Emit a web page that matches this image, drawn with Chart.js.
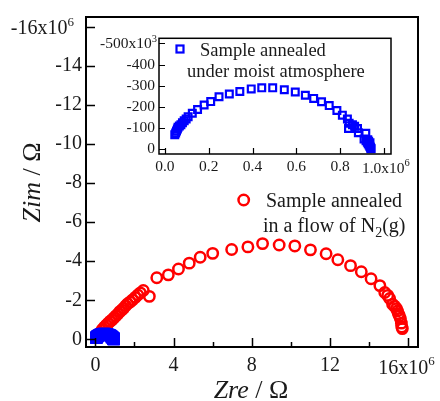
<!DOCTYPE html>
<html><head><meta charset="utf-8">
<script src="https://cdn.jsdelivr.net/npm/chart.js@4.4.0/dist/chart.umd.min.js"></script>
<style>
html,body{margin:0;padding:0;background:#fff;}
#wrap{position:relative;width:440px;height:401px;overflow:hidden;}
#main{position:absolute;left:0;top:0;}
#inset{position:absolute;left:90px;top:25px;}
</style></head><body>
<div id="wrap">
<canvas id="main" width="440" height="401"></canvas>
<canvas id="inset" width="335" height="155"></canvas>
</div>
<script>
// ---- data: sample annealed in N2 flow (Zre, Zim in 10^6 ohm) ----
const n2Zre = [0.15,0.25,0.35,0.45,0.55,0.65,0.75,0.85,0.95,1.05,1.15,1.25,1.35,1.45,1.55,1.65,1.78,1.9,2.04,2.17,2.3,2.45,2.76,3.14,3.73,4.25,4.8,5.36,6.0,6.97,7.8,8.55,9.4,10.2,11.0,11.8,12.4,13.05,13.6,14.1,14.55,14.8,14.95,15.05,15.2,15.3,15.4,15.45,15.5,15.55,15.6,15.65,15.67,15.7];
const n2Zim = [-0.2,-0.35,-0.5,-0.62,-0.72,-0.82,-0.92,-1.0,-1.1,-1.2,-1.3,-1.42,-1.5,-1.6,-1.72,-1.82,-1.92,-2.02,-2.15,-2.27,-2.38,-2.5,-2.2,-3.15,-3.3,-3.6,-3.9,-4.2,-4.4,-4.6,-4.73,-4.9,-4.83,-4.78,-4.58,-4.38,-4.07,-3.77,-3.46,-3.1,-2.75,-2.4,-2.25,-2.09,-1.8,-1.7,-1.57,-1.45,-1.3,-1.2,-1.07,-0.83,-0.63,-0.55];
// ---- data: sample annealed under moist atmosphere (Zre in 10^6 ohm, Zim in 10^3 ohm) ----
const moistZre = [0.045,0.049,0.053,0.057,0.06,0.066,0.073,0.08,0.088,0.097,0.106,0.125,0.149,0.179,0.209,0.247,0.294,0.342,0.394,0.442,0.492,0.545,0.595,0.641,0.679,0.715,0.75,0.785,0.81,0.833,0.841,0.856,0.838,0.866,0.879,0.883,0.917,0.909,0.918,0.924,0.926,0.928,0.93,0.932,0.935,0.936,0.938,0.94,0.941];
const moistZimK = [-68,-77,-86,-95,-104,-110,-116,-125,-134,-143,-153,-170,-188,-209,-225,-248,-261,-273,-285,-290,-290,-281,-270,-255,-240,-224,-206,-183,-161,-143,-123,-116,-98,-108,-98,-78,-75,-48,-40,-33,-45,-26,-38,-20,-14,-30,-9,-5,-2];
// ---- ticks ----
const mainXTicks = [0,4,8,12,16];
const mainXMinor = [2,6,10,14];
const mainYTicks = [-16,-14,-12,-10,-8,-6,-4,-2,0];
const insetXTicks = [0,0.2,0.4,0.6,0.8,1.0];
const insetYTicks = [-500,-400,-300,-200,-100,0];
// ---- texts ----
const legendN2 = ['Sample annealed','in a flow of N','2','(g)'];
const legendMoist = ['Sample annealed','under moist atmosphere'];
const xTitle = ['Zre',' / Ω'];
const yTitle = ['Zim',' / Ω'];

const SERIF = '"Liberation Serif","Times New Roman",serif';
const INK = '#1a1a1a';
const RED = '#ff0000', BLUE = '#0000ff';

function f(size, style){ return (style?style+' ':'') + size + 'px ' + SERIF; }
function drawRich(ctx, segs, x, y, align){
  let total = 0;
  segs.forEach(s=>{ ctx.font = s.font; s.w = ctx.measureText(s.t).width; total += s.w; });
  let cx = align==='center' ? x - total/2 : (align==='right' ? x - total : x);
  ctx.textAlign = 'left'; ctx.textBaseline = 'alphabetic';
  segs.forEach(s=>{ ctx.font = s.font; ctx.fillText(s.t, cx, y + (s.dy||0)); cx += s.w; });
}

// ---------------- main chart ----------------
const mainDeco = {
  id:'mainDeco',
  afterDraw(chart){
    const ctx = chart.ctx, a = chart.chartArea, xs = chart.scales.x, ys = chart.scales.y;
    ctx.save();
    ctx.strokeStyle = '#000'; ctx.lineWidth = 2;
    ctx.strokeRect(a.left, a.top, a.right-a.left, a.bottom-a.top);
    ctx.lineWidth = 1.5;
    ctx.beginPath();
    mainYTicks.forEach(v=>{ const p = Math.round(ys.getPixelForValue(v))+0.5; ctx.moveTo(a.left, p); ctx.lineTo(a.left+9, p); });
    mainXTicks.forEach(v=>{ const p = Math.round(xs.getPixelForValue(v))+0.5; ctx.moveTo(p, a.bottom); ctx.lineTo(p, a.bottom-9); });
    mainXMinor.forEach(v=>{ const p = Math.round(xs.getPixelForValue(v))+0.5; ctx.moveTo(p, a.bottom); ctx.lineTo(p, a.bottom-5); });
    ctx.stroke();
    ctx.fillStyle = INK;
    const py = ys.getPixelForValue(-16);
    drawRich(ctx, [{t:'-16x10', font:f(20)}, {t:'6', font:f(13), dy:-8}], a.left-12, py+7, 'right');
    const px = xs.getPixelForValue(16);
    drawRich(ctx, [{t:'16x10', font:f(20)}, {t:'6', font:f(13), dy:-9}], px-30, a.bottom+27, 'left');
    drawRich(ctx, [{t:xTitle[0], font:f(26,'italic')}, {t:xTitle[1], font:f(26)}], 251, 398, 'center');
    ctx.save();
    ctx.translate(40, 182.5); ctx.rotate(-Math.PI/2);
    drawRich(ctx, [{t:yTitle[0], font:f(26,'italic')}, {t:yTitle[1], font:f(26)}], 0, 0, 'center');
    ctx.restore();
    ctx.strokeStyle = RED; ctx.lineWidth = 2.5;
    ctx.beginPath(); ctx.arc(243.7, 200, 5.2, 0, Math.PI*2); ctx.stroke();
    ctx.fillStyle = INK;
    drawRich(ctx, [{t:legendN2[0], font:f(20)}], 266, 207, 'left');
    drawRich(ctx, [{t:legendN2[1], font:f(20)}, {t:legendN2[2], font:f(14), dy:5}, {t:legendN2[3], font:f(20)}], 263, 232, 'left');
    ctx.restore();
  }
};

new Chart(document.getElementById('main'), {
  type:'scatter',
  data:{ datasets:[
    { label:'moist', data: moistZre.map((x,i)=>({x:x, y:moistZimK[i]/1000})),
      pointStyle:'rect', pointRadius:6.7, borderColor:BLUE, borderWidth:2.5, backgroundColor:'rgba(0,0,0,0)' },
    { label:'N2', data: n2Zre.map((x,i)=>({x:x, y:n2Zim[i]})),
      pointStyle:'circle', pointRadius:5.2, borderColor:RED, borderWidth:2.5, backgroundColor:'rgba(0,0,0,0)' }
  ]},
  options:{
    responsive:false, animation:false, devicePixelRatio:1,
    layout:{ padding:{ top:17, right:22, left:0, bottom:0 } },
    plugins:{ legend:{display:false}, tooltip:{enabled:false} },
    scales:{
      x:{ type:'linear', min:-0.48, max:16.5,
          grid:{display:false, drawTicks:false}, border:{display:false},
          afterBuildTicks:s=>{ s.ticks = mainXTicks.map(v=>({value:v})); },
          afterFit:s=>{ s.height = 54; },
          ticks:{ padding:7, color:INK, font:{family:SERIF, size:20}, maxRotation:0, autoSkip:false,
                  callback:v=> v===16 ? '' : String(v) } },
      y:{ type:'linear', min:-16.49, max:0.39, reverse:true,
          grid:{display:false, drawTicks:false}, border:{display:false},
          afterBuildTicks:s=>{ s.ticks = mainYTicks.map(v=>({value:v})); },
          afterFit:s=>{ s.width = 86; },
          ticks:{ padding:4, color:INK, font:{family:SERIF, size:20}, autoSkip:false,
                  callback:v=> v===-16 ? '' : String(v) } }
    }
  },
  plugins:[mainDeco]
});

// ---------------- inset chart ----------------
const insetDeco = {
  id:'insetDeco',
  beforeDraw(chart){
    const ctx = chart.ctx, a = chart.chartArea;
    ctx.save(); ctx.fillStyle = '#fff';
    ctx.fillRect(a.left, a.top, a.right-a.left, a.bottom-a.top);
    ctx.restore();
  },
  afterDraw(chart){
    const ctx = chart.ctx, a = chart.chartArea, xs = chart.scales.x, ys = chart.scales.y;
    ctx.save();
    ctx.strokeStyle = '#000'; ctx.lineWidth = 1.5;
    ctx.strokeRect(a.left, a.top, a.right-a.left, a.bottom-a.top);
    ctx.lineWidth = 1.2;
    ctx.beginPath();
    insetYTicks.forEach(v=>{ const p = Math.round(ys.getPixelForValue(v))+0.5; ctx.moveTo(a.left, p); ctx.lineTo(a.left+6, p); });
    insetXTicks.forEach(v=>{ const p = Math.round(xs.getPixelForValue(v))+0.5; ctx.moveTo(p, a.bottom); ctx.lineTo(p, a.bottom-6); });
    ctx.stroke();
    ctx.fillStyle = INK;
    const py = ys.getPixelForValue(-500);
    drawRich(ctx, [{t:'-500x10', font:f(15.5)}, {t:'3', font:f(10.5), dy:-6}], a.left-2, py+5, 'right');
    const px = xs.getPixelForValue(1.0);
    drawRich(ctx, [{t:'1.0x10', font:f(15.5)}, {t:'6', font:f(10.5), dy:-7}], px-22, a.bottom+19, 'left');
    ctx.strokeStyle = BLUE; ctx.lineWidth = 2.2;
    ctx.strokeRect(90-3.5, 24-3.5, 7, 7);
    ctx.fillStyle = INK;
    drawRich(ctx, [{t:legendMoist[0], font:f(18.5)}], 110, 31, 'left');
    drawRich(ctx, [{t:legendMoist[1], font:f(18.5)}], 97, 52, 'left');
    ctx.restore();
  }
};

new Chart(document.getElementById('inset'), {
  type:'scatter',
  data:{ datasets:[
    { label:'moist', data: moistZre.map((x,i)=>({x:x, y:moistZimK[i]})),
      pointStyle:'rect', pointRadius:4.8, borderColor:BLUE, borderWidth:2.2, backgroundColor:'rgba(0,0,0,0)' }
  ]},
  options:{
    responsive:false, animation:false, devicePixelRatio:1,
    layout:{ padding:{ top:8, right:34, left:0, bottom:0 } },
    plugins:{ legend:{display:false}, tooltip:{enabled:false} },
    scales:{
      x:{ type:'linear', min:-0.027, max:1.032,
          grid:{display:false, drawTicks:false}, border:{display:false},
          afterBuildTicks:s=>{ s.ticks = insetXTicks.map(v=>({value:v})); },
          afterFit:s=>{ s.height = 26; },
          ticks:{ padding:4, color:INK, font:{family:SERIF, size:15.5}, maxRotation:0, autoSkip:false,
                  callback:v=> v===1 ? '' : v.toFixed(1) } },
      y:{ type:'linear', min:-524, max:22.6, reverse:true,
          grid:{display:false, drawTicks:false}, border:{display:false},
          afterBuildTicks:s=>{ s.ticks = insetYTicks.map(v=>({value:v})); },
          afterFit:s=>{ s.width = 69; },
          ticks:{ padding:4, color:INK, font:{family:SERIF, size:15.5}, autoSkip:false,
                  callback:v=> v===-500 ? '' : String(v) } }
    }
  },
  plugins:[insetDeco]
});
</script>
</body></html>
